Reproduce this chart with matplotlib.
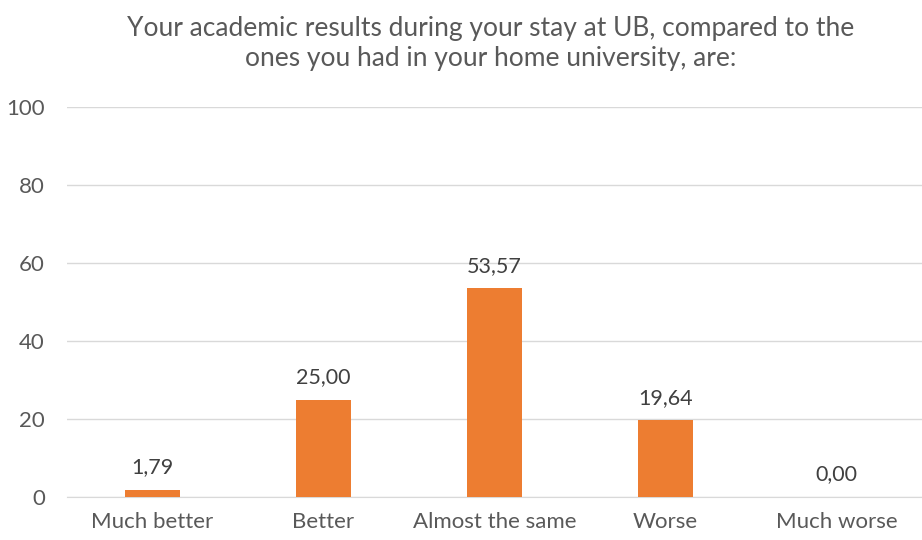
import matplotlib.pyplot as plt

categories = ['Much better', 'Better', 'Almost the same', 'Worse', 'Much worse']
values = [1.79, 25.00, 53.57, 19.64, 0.00]
labels = ['1,79', '25,00', '53,57', '19,64', '0,00']
yticks = [0, 20, 40, 60, 80, 100]

plt.rcParams['font.family'] = ['Lato', 'DejaVu Sans']
text_color = '#595959'

fig = plt.figure(figsize=(9.22, 5.4), dpi=100)
ax = fig.add_axes([0.0727, 0.0796, 0.9273, 0.7222])

x = range(len(categories))
bars = ax.bar(x, values, width=0.32, color='#ED7D31', zorder=3)
for b, lab in zip(bars, labels):
    ax.text(b.get_x() + b.get_width() / 2, b.get_height() + 3.2, lab,
            ha='center', va='bottom', fontsize=15.5, color='#404040')

ax.set_xlim(-0.5, len(categories) - 0.5)
ax.set_ylim(0, 100)
ax.set_yticks(yticks)
ax.set_xticks(list(x))
ax.set_xticklabels(categories)
ax.tick_params(axis='both', length=0, labelsize=16, colors=text_color)
ax.tick_params(axis='x', pad=11)
ax.tick_params(axis='y', pad=16)
ax.grid(axis='y', color='#D9D9D9', linewidth=1, zorder=0)
for s in ['top', 'right', 'left']:
    ax.spines[s].set_visible(False)
ax.spines['bottom'].set_color('#D9D9D9')

fig.text(0.532, 0.919, 'Your academic results during your stay at UB, compared to the\nones you had in your home university, are:',
         ha='center', va='center', fontsize=19, color=text_color, linespacing=1.25)

fig.savefig('out.png', dpi=100)
